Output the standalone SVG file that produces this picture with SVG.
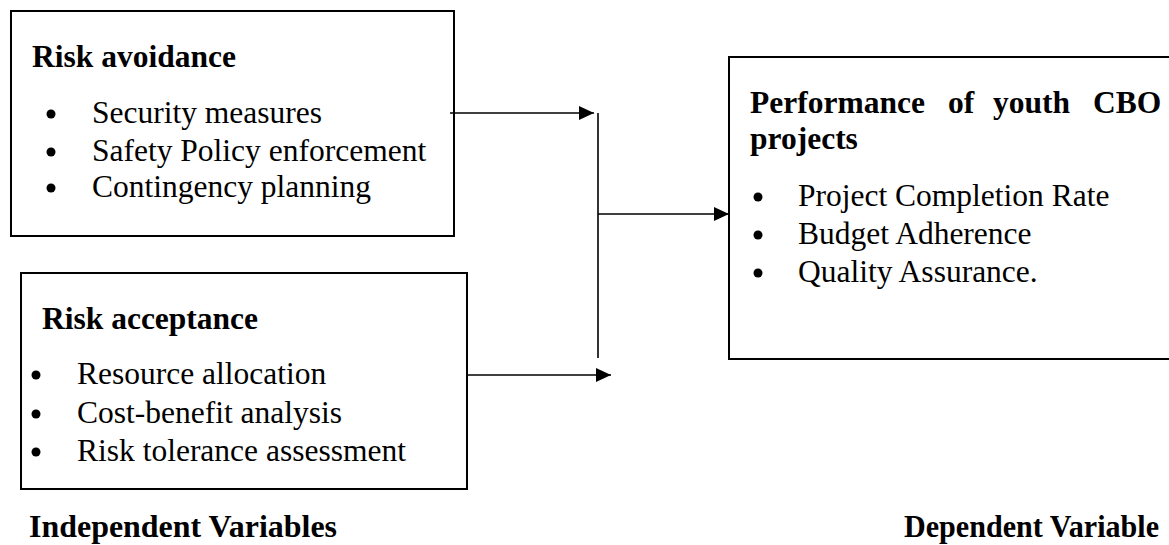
<svg xmlns="http://www.w3.org/2000/svg" width="1169" height="545" viewBox="0 0 1169 545">
<defs>
<style>
.box{fill:#fff;stroke:#000;stroke-width:2}
.t{font-family:"Liberation Serif","Times New Roman",serif;font-size:31.5px;fill:#000}
.b{font-weight:bold}
.ln{stroke:#000;stroke-width:1.6;fill:none}
.dot{fill:#000}
</style>
<marker id="ah" markerUnits="userSpaceOnUse" markerWidth="16" markerHeight="16" viewBox="0 0 16 16" refX="15" refY="8" orient="auto">
<polygon points="0,1 15,8 0,15" fill="#000"/>
</marker>
</defs>
<rect width="1169" height="545" fill="#fff"/>
<g id="risk-avoidance">
<rect class="box" x="11" y="11" width="443" height="225"/>
<text class="t b" x="32" y="67">Risk avoidance</text>
<circle class="dot" cx="51" cy="114" r="4.5"/>
<circle class="dot" cx="51" cy="152" r="4.5"/>
<circle class="dot" cx="51" cy="188" r="4.5"/>
<text class="t" x="92" y="123">Security measures</text>
<text class="t" x="92" y="161">Safety Policy enforcement</text>
<text class="t" x="92" y="197">Contingency planning</text>
</g>
<g id="risk-acceptance">
<rect class="box" x="21" y="273" width="446" height="216"/>
<text class="t b" x="42" y="329">Risk acceptance</text>
<circle class="dot" cx="36" cy="375" r="4.5"/>
<circle class="dot" cx="36" cy="414" r="4.5"/>
<circle class="dot" cx="36" cy="452" r="4.5"/>
<text class="t" x="77" y="384">Resource allocation</text>
<text class="t" x="77" y="423">Cost-benefit analysis</text>
<text class="t" x="77" y="461">Risk tolerance assessment</text>
</g>
<g id="performance">
<rect class="box" x="729" y="57" width="450" height="302"/>
<text class="t b" y="113"><tspan x="750">Performance</tspan><tspan x="948">of</tspan><tspan x="993">youth</tspan><tspan x="1093">CBO</tspan></text>
<text class="t b" x="750" y="149">projects</text>
<circle class="dot" cx="758" cy="197" r="4.5"/>
<circle class="dot" cx="758" cy="235" r="4.5"/>
<circle class="dot" cx="758" cy="273" r="4.5"/>
<text class="t" x="798" y="206">Project Completion Rate</text>
<text class="t" x="798" y="244">Budget Adherence</text>
<text class="t" x="798" y="282">Quality Assurance.</text>
</g>
<g id="labels">
<text class="t b" x="29" y="537" textLength="308" lengthAdjust="spacingAndGlyphs">Independent Variables</text>
<text class="t b" x="904" y="537" textLength="255" lengthAdjust="spacingAndGlyphs">Dependent Variable</text>
</g>
<g id="connectors">
<line class="ln" x1="450" y1="113" x2="594" y2="113" marker-end="url(#ah)"/>
<line class="ln" x1="598" y1="113" x2="598" y2="358"/>
<line class="ln" x1="598" y1="214" x2="729" y2="214" marker-end="url(#ah)"/>
<line class="ln" x1="467" y1="375" x2="611" y2="375" marker-end="url(#ah)"/>
</g>
</svg>
